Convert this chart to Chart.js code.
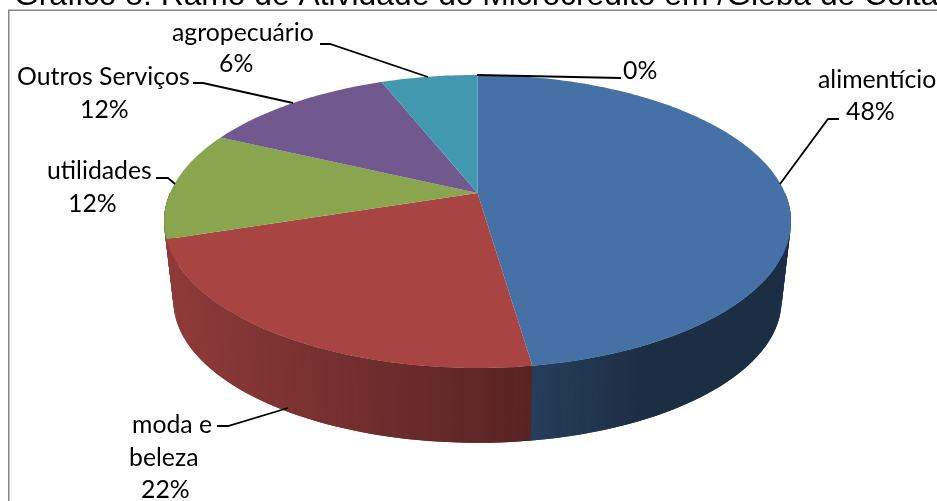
<!DOCTYPE html>
<html>
<head>
<meta charset="utf-8">
<title>Ramo de Atividade do Microcrédito</title>
<script src="https://cdn.jsdelivr.net/npm/chart.js@4"></script>
<style>
    html, body { margin: 0; padding: 0; background: #fff; overflow: hidden; }
    canvas { display: block; }
</style>
</head>
<body>
<canvas id="pieChart" width="937" height="501"></canvas>
<script>
const tituloGrafico = 'Gráfico 8: Ramo de Atividade do Microcrédito em /Gleba de Colta';
const categorias = ['alimentício', 'moda e beleza', 'utilidades', 'Outros Serviços', 'agropecuário', 'outros'];
const valores = [47.7, 22.3, 12, 12, 6, 0];
const cores = ['#4571A7', '#A84543', '#89A54E', '#71588F', '#4198AF', '#DB843D'];

// where each data label goes: lines of text, then the leader line
const rotulos = [
    { linhas: [['alimentício', 818, 88], ['%', 846, 120]], guia: [[839, 119], [828, 119], [780, 184]] },
    { linhas: [['moda e', 132, 433], ['beleza', 129, 466], ['%', 141, 498]], guia: [[217, 426], [228, 426], [288, 408]] },
    { linhas: [['utilidades', 47, 179], ['%', 68, 212]], guia: [[156, 178], [168, 178], [175, 184]] },
    { linhas: [['Outros Serviços', 17, 85], ['%', 80, 118]], guia: [[193, 83], [203, 83], [293, 103]] },
    { linhas: [['agropecuário', 172, 41], ['%', 219, 72]], guia: [[320, 44], [330, 44], [428, 77]] },
    { linhas: [['%', 623, 79]], guia: [[621, 78], [477, 75]] }
];

// perspective of the disc, the pie is drawn tilted
const tilt = 0.1945;
const raioX = 307.5;
const raioY = 141;
const centroX = 477.5;
const topoY = 193;
const baseY = 273;
const baseEscala = 0.97;
const passo = Math.PI / 180;

function projeta(a, y0, escala) {
    const u = Math.cos(a);
    const v = Math.sin(a);
    const d = 1 - tilt * v;
    return [centroX + escala * raioX * u / d, y0 + escala * raioY * v / d];
}

function escurece(hex, f) {
    const n = parseInt(hex.slice(1), 16);
    const r = Math.round((n >> 16 & 255) * f);
    const g = Math.round((n >> 8 & 255) * f);
    const b = Math.round((n & 255) * f);
    return 'rgb(' + r + ',' + g + ',' + b + ')';
}

// side shading goes darker to the right, then a bit lighter past the red slice
function sombra(x) {
    if (x <= 532) return 0.85 - (x - 175) / 357 * 0.33;
    if (x <= 640) return 0.55 - (x - 532) / 108 * 0.14;
    return 0.41;
}

function desenhaLateral(ctx, inicio, fim, cor) {
    const a0 = Math.max(inicio, 0);
    const a1 = Math.min(fim, Math.PI);
    for (let a = a0; a < a1; a += passo) {
        // each band runs under the next one so no seams show
        const b = Math.min(a + 2 * passo, a1);
        const p1 = projeta(a, topoY, 1);
        const p2 = projeta(b, topoY, 1);
        const p3 = projeta(b, baseY, baseEscala);
        const p4 = projeta(a, baseY, baseEscala);
        ctx.beginPath();
        ctx.moveTo(p1[0], p1[1]);
        ctx.lineTo(p2[0], p2[1]);
        ctx.lineTo(p3[0], p3[1]);
        ctx.lineTo(p4[0], p4[1]);
        ctx.closePath();
        ctx.fillStyle = escurece(cor, sombra(p4[0]));
        ctx.fill();
    }
}

function desenhaTopo(ctx, inicio, fim, cor) {
    ctx.beginPath();
    ctx.moveTo(centroX, topoY);
    for (let a = inicio; a < fim; a += passo) {
        const p = projeta(a, topoY, 1);
        ctx.lineTo(p[0], p[1]);
    }
    const f = projeta(fim, topoY, 1);
    ctx.lineTo(f[0], f[1]);
    ctx.closePath();
    ctx.fillStyle = cor;
    ctx.fill();
}

const pizza3d = {
    id: 'pizza3d',
    beforeDatasetsDraw(chart) {
        const ctx = chart.ctx;
        const arcos = chart.getDatasetMeta(0).data;
        ctx.save();
        arcos.forEach((arco, i) => {
            if (i !== 1 && arco.endAngle > arco.startAngle) {
                desenhaLateral(ctx, arco.startAngle, arco.endAngle + passo, cores[i]);
            }
        });
        // red wraps round the left edge, only a hairline of green shows
        desenhaLateral(ctx, arcos[1].startAngle, Math.PI, cores[1]);
        arcos.forEach((arco, i) => {
            if (arco.endAngle > arco.startAngle) desenhaTopo(ctx, arco.startAngle, arco.endAngle, cores[i]);
        });
        ctx.restore();
        return false;
    },
    afterDraw(chart) {
        const ctx = chart.ctx;
        const total = valores.reduce((s, v) => s + v, 0);
        ctx.save();

        // frame, open on the right and at the bottom
        ctx.strokeStyle = '#868686';
        ctx.lineWidth = 1.5;
        ctx.beginPath();
        ctx.moveTo(8.75, 501);
        ctx.lineTo(8.75, 10.25);
        ctx.lineTo(937, 10.25);
        ctx.stroke();

        ctx.fillStyle = '#000';
        ctx.font = '31.8px "Liberation Sans"';
        ctx.textAlign = 'left';
        ctx.fillText(tituloGrafico, 14, 5);

        ctx.font = '24.8px Lato';
        ctx.strokeStyle = '#000';
        ctx.lineWidth = 1.8;
        rotulos.forEach((r, i) => {
            r.linhas.forEach(l => {
                const texto = l[0] === '%' ? Math.round(valores[i] / total * 100) + '%' : l[0];
                ctx.fillText(texto, l[1], l[2]);
            });
            ctx.beginPath();
            r.guia.forEach((p, j) => {
                if (j === 0) ctx.moveTo(p[0], p[1]);
                else ctx.lineTo(p[0], p[1]);
            });
            ctx.stroke();
        });
        ctx.restore();
    }
};

new Chart(document.getElementById('pieChart'), {
    type: 'pie',
    data: {
        labels: categorias,
        datasets: [{
            data: valores,
            backgroundColor: cores,
            borderWidth: 0
        }]
    },
    options: {
        responsive: false,
        animation: false,
        plugins: {
            legend: { display: false },
            tooltip: { enabled: false }
        }
    },
    plugins: [pizza3d]
});
</script>
</body>
</html>
